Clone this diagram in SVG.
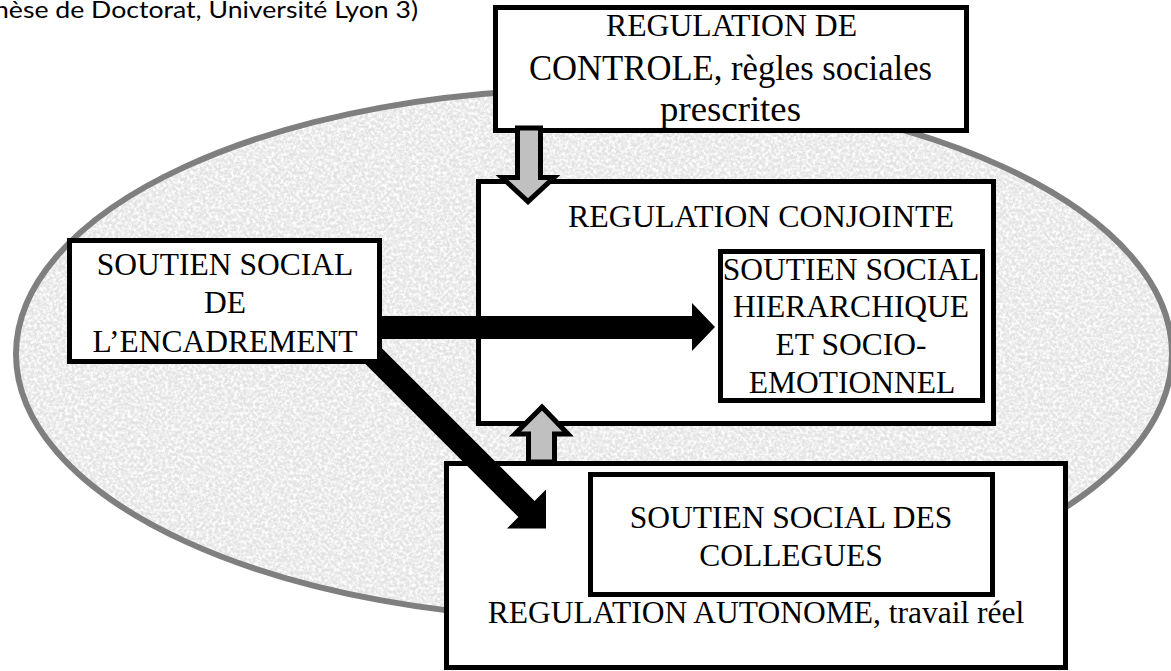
<svg xmlns="http://www.w3.org/2000/svg" width="1171" height="671" viewBox="0 0 1171 671">
  <style>
    .box { fill: #ffffff; stroke: #000000; stroke-width: 5; }
    .lbl { font-family: "Liberation Serif", "Times New Roman", serif; font-size: 31.5px; fill: #000000; }
    .mid { text-anchor: middle; }
    .big { font-size: 35.5px; }
    .hint { font-family: Lato, "Open Sans", "Liberation Sans", sans-serif; font-size: 23px; fill: #000000; }
    .flow { fill: #000000; stroke: none; }
    .pass { fill: #c0c0c0; stroke: #000000; stroke-width: 5; stroke-linejoin: miter; }
  </style>
  <defs>
    <!-- light speckled paper texture -->
    <filter id="grain" x="0" y="0" width="100%" height="100%">
      <feTurbulence type="fractalNoise" baseFrequency="0.32" numOctaves="4" seed="7" result="noise"/>
      <feColorMatrix in="noise" type="matrix"
        values="0 0 0 0 1  0 0 0 0 1  0 0 0 0 1  2.6 0 0 0 -0.95" result="light"/>
      <feComposite in="light" in2="SourceGraphic" operator="in"/>
    </filter>
    <filter id="dust" x="0" y="0" width="100%" height="100%">
      <feTurbulence type="fractalNoise" baseFrequency="0.5" numOctaves="2" seed="19" result="noise"/>
      <feColorMatrix in="noise" type="matrix"
        values="0 0 0 0 0.72  0 0 0 0 0.72  0 0 0 0 0.72  0 2.2 0 0 -1.05" result="dark"/>
      <feComposite in="dark" in2="SourceGraphic" operator="in"/>
    </filter>
  </defs>

  <!-- caption line, partly cut at the left edge -->
  <text class="hint" x="-6" y="18" textLength="424" lengthAdjust="spacingAndGlyphs">hèse de Doctorat, Université Lyon 3)</text>

  <!-- textured backdrop -->
  <g id="backdrop">
    <ellipse cx="594" cy="354" rx="578" ry="265" fill="#e4e4e4"/>
    <ellipse cx="594" cy="354" rx="578" ry="265" fill="#ffffff" filter="url(#dust)"/>
    <ellipse cx="594" cy="354" rx="578" ry="265" fill="#ffffff" filter="url(#grain)"/>
    <ellipse cx="594" cy="354" rx="578" ry="265" fill="none" stroke="#7f7f7f" stroke-width="6"/>
  </g>

  <g id="regulation-conjointe">
    <rect class="box" x="478.5" y="181.5" width="515" height="242"/>
    <text class="lbl" x="568" y="227" textLength="386" lengthAdjust="spacingAndGlyphs">REGULATION CONJOINTE</text>
    <g id="soutien-hierarchique">
      <rect class="box" x="720.5" y="251.5" width="262" height="149"/>
      <text class="lbl mid" x="851" y="280">SOUTIEN SOCIAL</text>
      <text class="lbl mid" x="851" y="317">HIERARCHIQUE</text>
      <text class="lbl mid" x="851" y="355">ET SOCIO-</text>
      <text class="lbl mid" x="852" y="393">EMOTIONNEL</text>
    </g>
  </g>

  <g id="regulation-autonome">
    <rect class="box" x="446.5" y="463.5" width="619" height="204"/>
    <g id="soutien-collegues">
      <rect class="box" x="590.5" y="474.5" width="402" height="120"/>
      <text class="lbl mid" x="791" y="528">SOUTIEN SOCIAL DES</text>
      <text class="lbl mid" x="791" y="566">COLLEGUES</text>
    </g>
    <text class="lbl mid" x="756" y="623">REGULATION AUTONOME, travail réel</text>
  </g>

  <g id="regulation-controle">
    <rect class="box" x="495.5" y="7.5" width="471" height="123"/>
    <text class="lbl" x="606" y="36" textLength="251" lengthAdjust="spacingAndGlyphs">REGULATION DE</text>
    <text class="lbl big" x="529" y="80" textLength="403" lengthAdjust="spacingAndGlyphs">CONTROLE, règles sociales</text>
    <text class="lbl big" x="660" y="121" textLength="141" lengthAdjust="spacingAndGlyphs">prescrites</text>
  </g>

  <g id="connectors">
    <!-- control rules pushing down into joint regulation -->
    <polygon class="pass" points="517.5,128 540.5,128 540.5,177.5 554,177.5 528,201.5 502,177.5 517.5,177.5"/>
    <!-- autonomous regulation pushing up into joint regulation -->
    <polygon class="pass" points="542,407 568,434 554.5,434 554.5,462 528.5,462 528.5,434 515,434"/>
    <!-- management support to hierarchical support -->
    <polygon class="flow" points="370,316 692,316 692,303 715,327 692,351 692,339 370,339"/>
    <!-- management support to colleague support -->
    <polygon class="flow" points="338.1,304.4 534.6,500.9 546,489.5 546,528.5 507,528.5 518.4,517.1 321.9,320.6"/>
  </g>

  <g id="soutien-encadrement">
    <rect class="box" x="69.5" y="240.5" width="310" height="121"/>
    <text class="lbl mid" x="225" y="275">SOUTIEN SOCIAL</text>
    <text class="lbl mid" x="225" y="313">DE</text>
    <text class="lbl mid" x="225" y="352">L’ENCADREMENT</text>
  </g>
</svg>
